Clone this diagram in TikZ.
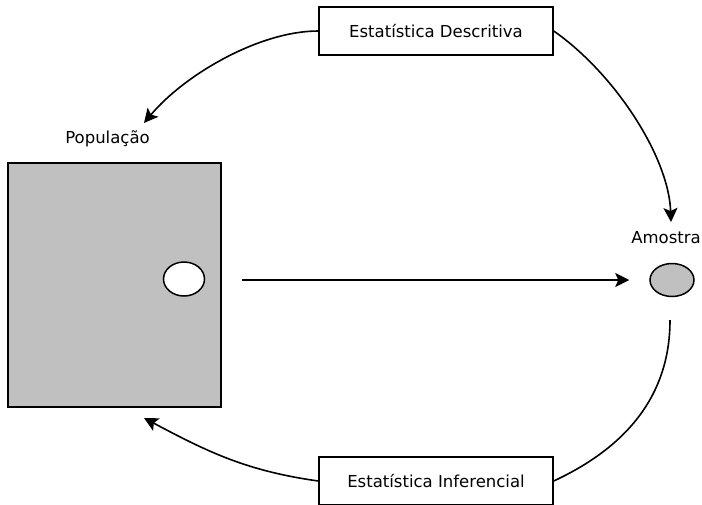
\documentclass[tikz,border=0pt]{standalone}
\usepackage{fontspec}
\setmainfont{DejaVu Sans}
\usepackage{tikz}
\usetikzlibrary{positioning, shapes.geometric, arrows.meta}
\usepackage{xcolor}
\definecolor{xgray}{HTML}{C0C0C0}
\tikzset{
	arrow/.style={line width=1.6pt, ->, >={Stealth[length=14pt, width=14pt, inset=3pt]}},
	link/.style={line width=1.6pt},
	statbox/.style={draw, line width=1.5pt, minimum width=234pt, minimum height=48pt, inner sep=0pt},
}

\begin{document}
\begin{tikzpicture}[x=1pt, y=-1pt, font=\fontsize{16.5pt}{20pt}\selectfont]
			\useasboundingbox (0,0) rectangle (702,504);

			\node[draw, line width=1.5pt, fill=xgray, minimum width=213pt, minimum height=244pt, inner sep=0pt] (pop) at (114.5,285) {};
			\node[draw, ellipse, line width=1.5pt, fill=white, minimum width=41pt, minimum height=34pt, inner sep=0pt] (popcircle) at (184,279) {};
			\node[anchor=base] (poplbl) at (107.5,143) {População};

			\node[draw, ellipse, line width=1.5pt, fill=xgray, minimum width=44pt, minimum height=33pt, inner sep=0pt] (amostra) at (672,280) {};
			\node[anchor=base] (amolbl) at (666,243) {Amostra};

			\node[statbox] (desc) at (436,31) {Estatística Descritiva};
			\node[statbox] (infer) at (436,481) {Estatística Inferencial};

			\coordinate (popin) at (144,123);
			\coordinate (amoin) at (671,222);
			\coordinate (amoout) at (670,320);
			\coordinate (popbot) at (144,418);

			\draw[arrow, shorten <=20pt, shorten >=20pt] (pop.east |- amostra) -- (amostra.west);

			\draw[arrow] (desc.west) to[out=180, in=50, out distance=59pt, in distance=63pt] (popin);
			\draw[arrow] (desc.east) to[out=-35, in=92, out distance=75pt, in distance=65pt] (amoin);
			\draw[link] (amoout) to[out=-90, in=25] (infer.east);
			\draw[arrow] (infer.west) to[out=172, in=-28] (popbot);
		\end{tikzpicture}
\end{document}
